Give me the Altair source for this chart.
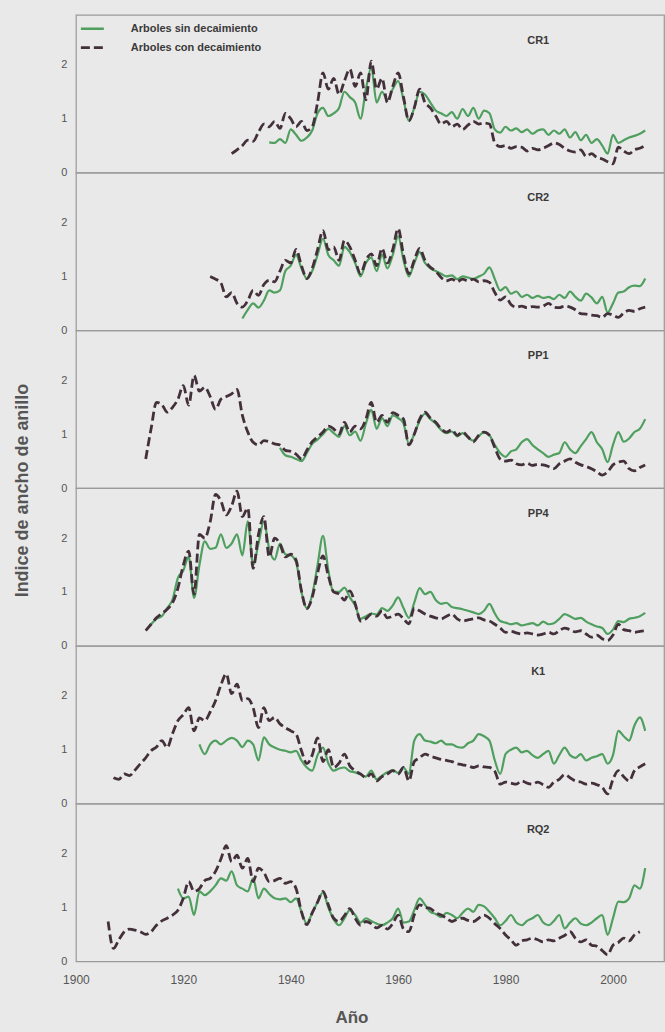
import altair as alt
import pandas as pd

# Tree-ring width indices per site: trees without decline (sin) and with decline (con)
sites = ["CR1", "CR2", "PP1", "PP4", "K1", "RQ2"]
series_names = ["Arboles sin decaimiento", "Arboles con decaimiento"]

cr1_sin_start = 1936
cr1_sin = [0.56, 0.55, 0.62, 0.55, 0.8, 0.7, 0.59, 0.65, 0.78, 1.1, 1.2, 1.05, 1.1, 1.2, 1.5, 1.4,
           1.3, 1.0, 1.55, 1.95, 1.3, 1.5, 1.35, 1.55, 1.7, 1.35, 0.96, 1.2, 1.5, 1.45, 1.3, 1.15,
           1.1, 1.05, 1.12, 1.0, 1.18, 1.05, 1.2, 1.0, 1.15, 1.1, 0.8, 0.74, 0.85, 0.78, 0.82, 0.75,
           0.8, 0.72, 0.78, 0.8, 0.7, 0.78, 0.72, 0.8, 0.65, 0.75, 0.6, 0.7, 0.55, 0.62, 0.5, 0.35,
           0.7, 0.55, 0.6, 0.65, 0.68, 0.72, 0.78]
cr1_con_start = 1929
cr1_con = [0.35, 0.42, 0.5, 0.6, 0.58, 0.75, 0.9, 0.85, 0.95, 0.82, 1.1, 1.0, 0.85, 0.95, 0.78, 0.85,
           1.3, 1.85, 1.55, 1.75, 1.45, 1.7, 1.92, 1.6, 1.85, 1.35, 2.07, 1.55, 1.75, 1.3, 1.6, 1.85,
           1.4, 0.96, 1.2, 1.55, 1.3, 1.2, 1.05, 0.9, 0.95, 0.85, 0.9, 0.8, 0.88, 0.95, 0.9, 0.92,
           0.9, 0.55, 0.48, 0.5, 0.45, 0.48, 0.47, 0.4, 0.45, 0.42, 0.45, 0.5, 0.55, 0.52, 0.45, 0.4,
           0.38, 0.42, 0.3, 0.35, 0.28, 0.25, 0.2, 0.16, 0.47, 0.4, 0.35, 0.42, 0.45, 0.5]

cr2_sin_start = 1931
cr2_sin = [0.22, 0.38, 0.5, 0.42, 0.55, 0.74, 0.7, 0.74, 1.1, 1.2, 1.4, 1.15, 0.96, 1.1, 1.4, 1.7,
           1.4, 1.3, 1.2, 1.55, 1.45, 1.25, 1.0, 1.25, 1.35, 1.1, 1.4, 1.15, 1.4, 1.75, 1.3, 1.0,
           1.25, 1.45, 1.25, 1.15, 1.1, 1.05, 1.0, 1.02, 0.95, 1.0, 0.98, 0.95, 1.0, 1.05, 1.17, 0.95,
           0.74, 0.8, 0.68, 0.72, 0.62, 0.66, 0.6, 0.64, 0.6, 0.62, 0.58, 0.66, 0.6, 0.72, 0.62, 0.55,
           0.68, 0.61, 0.5, 0.62, 0.33, 0.5, 0.7, 0.72, 0.8, 0.83, 0.82, 0.96]
cr2_con_start = 1925
cr2_con = [1.0, 0.95, 0.88, 0.62, 0.7, 0.5, 0.43, 0.55, 0.74, 0.65, 0.85, 0.93, 0.9, 1.1, 1.3, 1.25,
           1.5, 1.2, 0.96, 1.15, 1.5, 1.85, 1.5, 1.55, 1.3, 1.67, 1.55, 1.3, 1.05, 1.3, 1.42, 1.2,
           1.52, 1.25, 1.5, 1.89, 1.4, 1.05, 1.3, 1.52, 1.3, 1.17, 1.1, 0.98, 0.92, 0.95, 0.9, 0.95,
           0.92, 0.95, 0.9, 0.92, 0.89, 0.7, 0.56, 0.62, 0.48, 0.43, 0.45, 0.42, 0.44, 0.43, 0.45, 0.5,
           0.43, 0.42, 0.45, 0.43, 0.38, 0.31, 0.3, 0.28, 0.27, 0.24, 0.31, 0.28, 0.24, 0.32, 0.37, 0.35,
           0.4, 0.43]

pp1_sin_start = 1938
pp1_sin = [0.75, 0.61, 0.58, 0.54, 0.5, 0.65, 0.82, 0.9, 1.0, 1.1, 1.02, 0.95, 1.15, 0.98, 1.05, 0.88,
           1.2, 1.45, 1.1, 1.3, 1.15, 1.35, 1.3, 1.2, 0.82, 1.0, 1.25, 1.38, 1.28, 1.2, 1.08, 1.02,
           1.05, 0.96, 1.02, 0.94, 0.88, 0.96, 1.04, 0.98, 0.8, 0.65, 0.58, 0.68, 0.72, 0.85, 0.91, 0.8,
           0.72, 0.65, 0.58, 0.62, 0.65, 0.85, 0.72, 0.65, 0.78, 0.91, 1.04, 0.85, 0.72, 0.48, 0.8, 1.04,
           0.86, 0.92, 1.04, 1.1, 1.28]
pp1_con_start = 1913
pp1_con = [0.54, 1.1, 1.59, 1.55, 1.41, 1.5, 1.65, 1.9, 1.54, 2.09, 1.8, 1.87, 1.7, 1.46, 1.65, 1.7,
           1.75, 1.83, 1.35, 1.04, 0.85, 0.8, 0.88, 0.86, 0.82, 0.8, 0.7, 0.68, 0.63, 0.54, 0.7, 0.86,
           0.95, 1.04, 1.15, 1.1, 1.0, 1.22, 1.04, 1.15, 1.1, 1.28, 1.59, 1.22, 1.35, 1.22, 1.4, 1.35,
           1.28, 0.8, 1.0, 1.28, 1.41, 1.3, 1.22, 1.1, 1.04, 1.08, 0.98, 1.04, 0.95, 0.86, 0.98, 1.04,
           0.98, 0.75, 0.54, 0.5, 0.52, 0.45, 0.43, 0.46, 0.42, 0.44, 0.43, 0.4, 0.36, 0.45, 0.5, 0.54,
           0.48, 0.43, 0.4, 0.36, 0.3, 0.24, 0.3, 0.43, 0.48, 0.5, 0.36, 0.32, 0.38, 0.43]

pp4_sin_start = 1914
pp4_sin = [0.4, 0.5, 0.55, 0.7, 0.86, 1.26, 1.4, 1.65, 0.89, 1.5, 1.94, 1.8, 1.82, 2.07, 1.82, 1.9,
           2.07, 1.68, 2.31, 1.5, 1.9, 2.31, 1.8, 1.6, 1.9, 1.7, 1.68, 1.55, 1.0, 0.7, 0.95, 1.5,
           2.04, 1.4, 1.0, 1.0, 1.08, 0.9, 0.75, 0.5, 0.55, 0.6, 0.58, 0.7, 0.65, 0.75, 0.9, 0.7,
           0.52, 0.8, 1.07, 0.96, 1.0, 0.85, 0.78, 0.8, 0.72, 0.7, 0.68, 0.65, 0.62, 0.59, 0.65, 0.78,
           0.6, 0.46, 0.43, 0.4, 0.42, 0.38, 0.4, 0.42, 0.38, 0.45, 0.4, 0.42, 0.5, 0.59, 0.55, 0.5,
           0.52, 0.45, 0.4, 0.36, 0.33, 0.22, 0.3, 0.46, 0.44, 0.5, 0.52, 0.55, 0.61]
pp4_con_start = 1913
pp4_con = [0.28, 0.4, 0.52, 0.6, 0.68, 0.8, 1.07, 1.5, 1.76, 0.96, 2.07, 2.0, 2.3, 2.81, 2.69, 2.43,
           2.6, 2.87, 2.4, 2.56, 1.44, 2.07, 2.4, 1.65, 2.0, 1.89, 1.65, 1.7, 1.59, 1.02, 0.69, 0.9,
           1.35, 1.67, 1.3, 1.0, 0.96, 0.85, 1.02, 0.78, 0.46, 0.5, 0.59, 0.55, 0.65, 0.52, 0.55, 0.59,
           0.5, 0.41, 0.7, 0.65, 0.59, 0.55, 0.52, 0.5, 0.55, 0.59, 0.5, 0.46, 0.48, 0.5, 0.52, 0.48,
           0.46, 0.4, 0.33, 0.25, 0.27, 0.24, 0.22, 0.24, 0.22, 0.2, 0.22, 0.25, 0.22, 0.28, 0.33, 0.3,
           0.26, 0.28, 0.22, 0.16, 0.2, 0.13, 0.1, 0.2, 0.4, 0.3, 0.28, 0.25, 0.27, 0.28]

k1_sin_start = 1923
k1_sin = [1.1, 0.92, 1.1, 1.17, 1.1, 1.17, 1.22, 1.17, 1.05, 1.17, 1.1, 0.8, 1.23, 1.1, 1.04, 1.0,
          0.98, 0.95, 0.98, 0.8, 0.67, 0.61, 0.9, 1.04, 0.75, 0.61, 0.65, 0.67, 0.6, 0.58, 0.54, 0.5,
          0.61, 0.45, 0.52, 0.58, 0.62, 0.57, 0.67, 0.55, 1.17, 1.29, 1.17, 1.15, 1.12, 1.17, 1.1, 1.1,
          1.05, 1.04, 1.12, 1.17, 1.29, 1.25, 1.17, 0.8, 0.55, 0.92, 1.0, 1.04, 0.95, 0.98, 0.9, 0.85,
          0.92, 0.98, 0.74, 0.9, 1.04, 0.9, 0.85, 0.92, 0.8, 0.85, 0.88, 0.92, 0.74, 0.9, 1.35, 1.25,
          1.17, 1.45, 1.6, 1.35]
k1_con_start = 1907
k1_con = [0.48, 0.45, 0.55, 0.52, 0.62, 0.74, 0.85, 0.98, 1.05, 1.17, 1.04, 1.3, 1.54, 1.65, 1.78, 1.35,
          1.59, 1.54, 1.7, 1.91, 2.2, 2.41, 2.04, 2.22, 1.91, 1.95, 1.78, 1.41, 1.78, 1.54, 1.6, 1.48,
          1.41, 1.35, 1.29, 0.98, 0.74, 0.9, 1.22, 0.78, 1.0, 0.67, 0.75, 0.92, 0.7, 0.61, 0.55, 0.48,
          0.55, 0.42, 0.5, 0.55, 0.61, 0.55, 0.67, 0.42, 0.78, 0.85, 0.92, 0.88, 0.85, 0.82, 0.8, 0.78,
          0.74, 0.72, 0.7, 0.67, 0.7, 0.68, 0.67, 0.6, 0.36, 0.4, 0.38, 0.36, 0.42, 0.38, 0.36, 0.4,
          0.35, 0.3, 0.4, 0.45, 0.54, 0.48, 0.42, 0.4, 0.36, 0.38, 0.35, 0.3, 0.18, 0.45, 0.61, 0.5,
          0.42, 0.61, 0.68, 0.74]

rq2_sin_start = 1919
rq2_sin = [1.35, 1.17, 1.2, 0.86, 1.3, 1.23, 1.3, 1.41, 1.54, 1.5, 1.67, 1.41, 1.35, 1.3, 1.54, 1.17,
           1.35, 1.25, 1.17, 1.15, 1.17, 1.1, 1.17, 0.92, 0.7, 0.9, 1.1, 1.28, 1.0, 0.78, 0.67, 0.8,
           0.95, 0.86, 0.72, 0.8, 0.75, 0.7, 0.67, 0.72, 0.8, 0.98, 0.72, 0.74, 0.95, 1.17, 1.05, 0.92,
           0.88, 0.82, 0.9, 0.86, 0.8, 0.9, 0.98, 0.92, 1.05, 1.02, 0.92, 0.8, 0.67, 0.75, 0.86, 0.72,
           0.67, 0.75, 0.8, 0.86, 0.72, 0.67, 0.75, 0.86, 0.61, 0.72, 0.8, 0.7, 0.67, 0.72, 0.8, 0.86,
           0.49, 0.8, 1.11, 1.1, 1.17, 1.41, 1.35, 1.73]
rq2_con_start = 1906
rq2_con = [0.74, 0.24, 0.4, 0.55, 0.6, 0.58, 0.55, 0.5, 0.55, 0.67, 0.75, 0.8, 0.86, 0.95, 1.17, 1.48,
           1.3, 1.35, 1.5, 1.54, 1.67, 1.9, 2.15, 1.85, 1.97, 1.73, 1.91, 1.48, 1.73, 1.65, 1.48, 1.5,
           1.54, 1.45, 1.48, 1.35, 0.92, 0.68, 0.9, 1.1, 1.3, 1.05, 0.8, 0.74, 0.85, 0.98, 0.8, 0.67,
           0.74, 0.7, 0.62, 0.67, 0.6, 0.7, 0.86, 0.6, 0.55, 0.86, 1.05, 1.0, 0.98, 0.9, 0.86, 0.8,
           0.74, 0.78, 0.8, 0.76, 0.74, 0.8, 0.86, 0.8, 0.7, 0.61, 0.49, 0.4, 0.3, 0.38, 0.4, 0.43,
           0.4, 0.36, 0.4, 0.38, 0.43, 0.48, 0.55, 0.43, 0.36, 0.4, 0.3, 0.28, 0.2, 0.12, 0.3, 0.35,
           0.43, 0.38, 0.49, 0.55]

site_series = {
    "CR1": ((cr1_sin_start, cr1_sin), (cr1_con_start, cr1_con)),
    "CR2": ((cr2_sin_start, cr2_sin), (cr2_con_start, cr2_con)),
    "PP1": ((pp1_sin_start, pp1_sin), (pp1_con_start, pp1_con)),
    "PP4": ((pp4_sin_start, pp4_sin), (pp4_con_start, pp4_con)),
    "K1": ((k1_sin_start, k1_sin), (k1_con_start, k1_con)),
    "RQ2": ((rq2_sin_start, rq2_sin), (rq2_con_start, rq2_con)),
}

x_ticks = [1900, 1920, 1940, 1960, 1980, 2000]
y_ticks = [0, 1, 2]

GREEN = "#4f9f5f"
DARK = "#44303a"
FONT = "Liberation Sans"
W, H = 589, 158

x_scale = alt.Scale(domain=[1900, 2009.5], nice=False)
y_scale = alt.Scale(domain=[0, 2.93], nice=False)


def frame(start, values, name):
    return pd.DataFrame({"Año": [start + i for i in range(len(values))],
                         "indice": values, "serie": name})


def panel(idx, site):
    (s0, sv), (c0, cv) = site_series[site]
    df = pd.concat([frame(s0, sv, series_names[0]), frame(c0, cv, series_names[1])])
    last = idx == len(sites) - 1

    if last:
        x_axis = alt.Axis(values=x_ticks, format="d", ticks=False, domain=False, grid=False,
                          labelFlush=False, labelFont=FONT, labelFontSize=12,
                          labelColor="#555555", labelPadding=13,
                          title="Año", titleFont=FONT, titleFontSize=17, titleFontWeight="bold",
                          titleColor="#555555", titlePadding=24, titleX=276)
    else:
        x_axis = None

    y_kwargs = dict(values=y_ticks, ticks=False, domain=False, grid=False, labelFont=FONT,
                    labelFontSize=11, labelColor="#555555", labelPadding=9)
    if idx == 2:
        y_axis = alt.Axis(title="Indice de ancho de anillo", titleFont=FONT, titleFontSize=18,
                          titleFontWeight="bold", titleColor="#555555", titleAngle=270,
                          titleX=-53, titleY=H + 2, titleAlign="center",
                          titleBaseline="middle", **y_kwargs)
    else:
        y_axis = alt.Axis(title=None, **y_kwargs)

    base = alt.Chart(df).encode(
        x=alt.X("Año:Q", scale=x_scale, axis=x_axis),
        y=alt.Y("indice:Q", scale=y_scale, axis=y_axis),
    )
    sin_line = base.transform_filter(alt.datum.serie == series_names[0]).mark_line(
        color=GREEN, strokeWidth=2.2, interpolate="monotone")
    con_line = base.transform_filter(alt.datum.serie == series_names[1]).mark_line(
        color=DARK, strokeWidth=2.8, strokeDash=[9, 4], interpolate="monotone")

    label = alt.Chart(pd.DataFrame({"sitio": [site]})).mark_text(
        font=FONT, fontSize=11, fontWeight="bold", color="#3a3a3a", align="center",
        baseline="middle").encode(text="sitio:N", x=alt.value(463), y=alt.value(26))

    layers = [sin_line, con_line, label]

    if idx == 0:
        # In-panel legend: a swatch and a caption for each series
        for name, color, width, dash, ypos in [
            (series_names[0], GREEN, 2.5, None, 14),
            (series_names[1], DARK, 2.8, [9, 4], 33),
        ]:
            one = pd.DataFrame({"serie": [name]})
            rule_kw = dict(color=color, strokeWidth=width)
            if dash:
                rule_kw["strokeDash"] = dash
            layers.append(alt.Chart(one).mark_rule(**rule_kw).encode(
                x=alt.value(5), x2=alt.value(28), y=alt.value(ypos)))
            layers.append(alt.Chart(one).mark_text(
                font=FONT, fontSize=11, fontWeight="bold", color="#3a3a3a", align="left",
                baseline="middle").encode(text="serie:N", x=alt.value(55), y=alt.value(ypos)))

    return alt.layer(*layers).properties(width=W, height=H)


chart = alt.vconcat(*[panel(i, s) for i, s in enumerate(sites)], spacing=0, bounds="flush") \
    .properties(padding={"top": 13, "left": 13, "right": 0, "bottom": 5}, background="#e9e9e9") \
    .configure_view(stroke="#9a9a9a", strokeWidth=1.2)

chart.save("out.html", embed_options={"renderer": "svg", "actions": False})
